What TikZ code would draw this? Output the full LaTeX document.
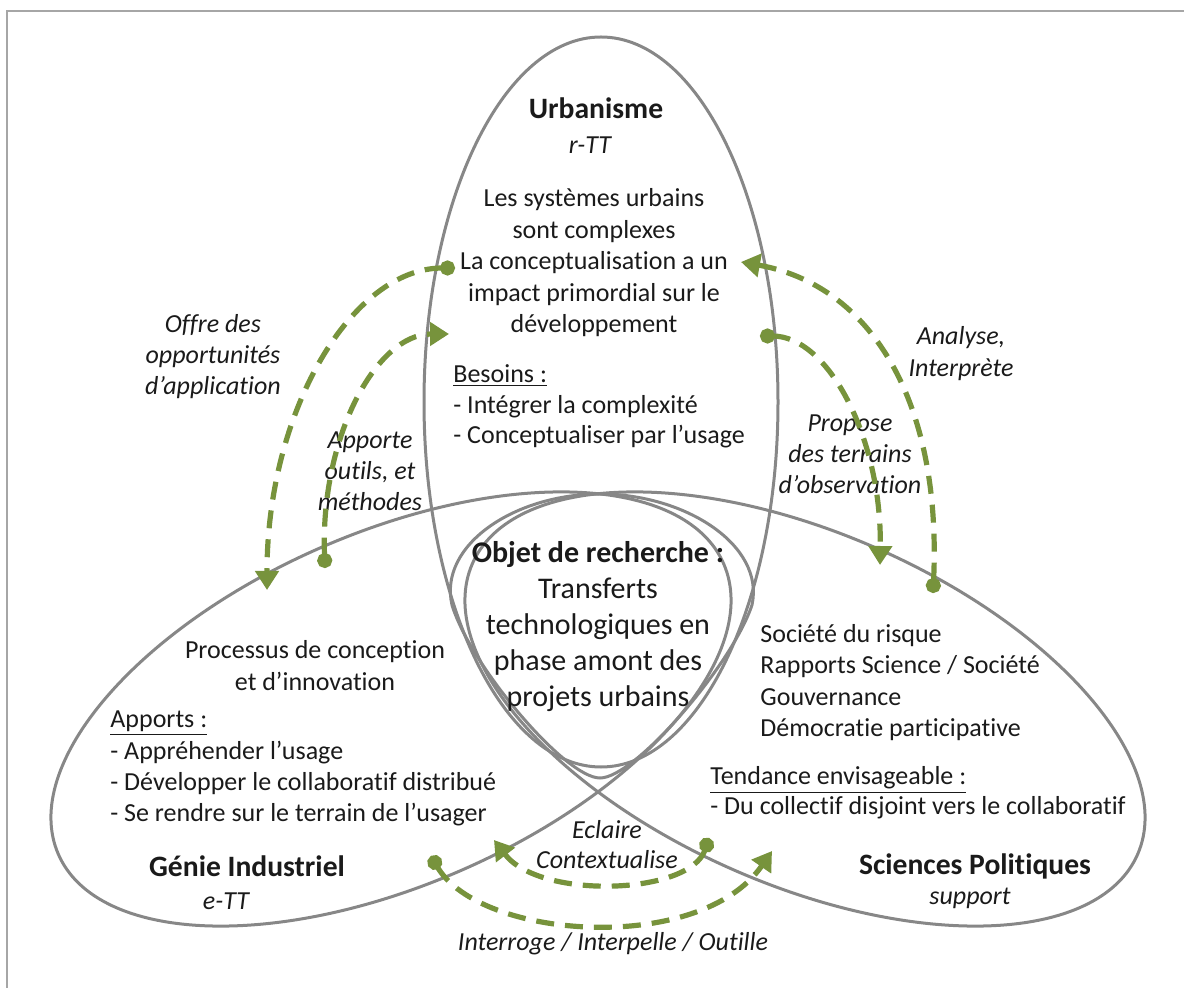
\documentclass[tikz,border=0pt]{standalone}
\usepackage{fontspec}
\setmainfont{Carlito}[Ligatures={NoCommon,NoContextual}]
\usetikzlibrary{arrows.meta}
\definecolor{arrowgreen}{HTML}{77933C}
\definecolor{ringgray}{HTML}{878787}
\definecolor{framegray}{HTML}{A6A6A6}
\definecolor{inkc}{HTML}{1A1A1A}
\begin{document}
\begin{tikzpicture}[x=0.5pt,y=-0.5pt,
  ring/.style={draw=ringgray,line width=1.5pt},
  flow/.style={draw=arrowgreen,line width=2.6pt,dash pattern=on 9pt off 5.5pt,
     {Circle[length=7.5pt,width=7.5pt]}-{Triangle[length=9.5pt,width=11.5pt]}},
  txt/.style={inner sep=0pt,text=inkc,font=\fontsize{13}{15.6}\selectfont},
  ctxt/.style={txt,align=center},
  ltxt/.style={txt,align=left,anchor=west},
  itxt/.style={txt,align=center,font=\fontsize{13}{15.6}\selectfont\itshape},
  ttl/.style={inner sep=0pt,text=inkc,font=\fontsize{14.8}{17}\selectfont\bfseries},
]
\useasboundingbox (0,0) rectangle (1184,988);
% frame
\draw[framegray,line width=1pt] (7,988) -- (7,11) -- (1184,11);

% rings
\draw[ring] (601,402) ellipse [x radius=177, y radius=365];
\draw[ring,rotate around={23.6:(391,709)}] (391,709) ellipse [x radius=363, y radius=176];
\draw[ring,rotate around={-23.6:(805,709)}] (805,709) ellipse [x radius=363, y radius=176];
\draw[ring] (600,778) .. controls (565,778) and (470,665) .. (452,605)
   .. controls (438,545) and (515,494) .. (600,494)
   .. controls (685,494) and (765,545) .. (752,605)
   .. controls (732,665) and (635,778) .. (600,778) -- cycle;

% texts
\node[ttl] (urb) at (596,108) {Urbanisme};
\node[itxt] (rtt) at (590,145) {r-TT};
\node[ctxt,font=\fontsize{13}{15.75}\selectfont] (urbtxt) at (594,263) {Les systèmes urbains\\sont complexes\\La conceptualisation a un\\impact primordial sur le\\développement};
\node[ltxt,font=\fontsize{13}{15.25}\selectfont] (besoins) at (453,406.5) {\underline{Besoins :}\\- Intégrer la complexité\\- Conceptualiser par l’usage};

\node[itxt] (offre) at (213,356.5) {Offre des\\opportunités\\d’application};
\node[itxt] (apporte) at (370,471) {Apporte\\outils, et\\méthodes};
\node[itxt] (analyse) at (961,353.5) {Analyse,\\Interprète};
\node[itxt] (propose) at (850,454.5) {Propose\\des terrains\\d’observation};

\node[txt,align=center,font=\fontsize{15}{18}\selectfont] (objet) at (598,627) {\textbf{Objet de recherche :}\\Transferts\\technologiques en\\phase amont des\\projets urbains};

\node[ctxt] (processus) at (315,665.5) {Processus de conception\\et d’innovation};
\node[ltxt] (apports) at (110,768.5) {\underline{Apports :}\\- Appréhender l’usage\\- Développer le collaboratif distribué\\- Se rendre sur le terrain de l’usager};
\node[ttl] (genie) at (247,866) {Génie Industriel};
\node[itxt] (ett) at (226,901) {e-TT};

\node[ltxt] (societe) at (760,682.5) {Société du risque\\Rapports Science / Société\\Gouvernance\\Démocratie participative};
\node[ltxt,font=\fontsize{13}{15}\selectfont] (tendance) at (710,793) {\underline{Tendance envisageable :}\\- Du collectif disjoint vers le collaboratif};
\node[ttl] (sciences) at (975,866) {Sciences Politiques};
\node[itxt] (support) at (970,898) {support};

\node[itxt,font=\fontsize{13}{15}\selectfont\itshape] (eclaire) at (607,845) {Eclaire\\Contextualise};
\node[itxt] (interroge) at (613,944) {Interroge / Interpelle / Outille};

% arrow end points
\coordinate (a1s) at (455,268);
\coordinate (a1e) at (267,590);
\coordinate (a2s) at (325,568);
\coordinate (a2e) at (449,334);
\coordinate (a3s) at (933,593);
\coordinate (a3e) at (741,262);
\coordinate (a4s) at (760,336);
\coordinate (a4e) at (880,565);
\coordinate (a5s) at (709,838);
\coordinate (a5e) at (494,840);
\coordinate (a6s) at (431,856);
\coordinate (a6e) at (772,851);

% arrows
\draw[flow] (a1s) .. controls (352,268) and (267,411) .. (a1e);
\draw[flow] (a2s) .. controls (320,438) and (376,334) .. (a2e);
\draw[flow] (a3s) .. controls (942,400) and (870,285) .. (a3e);
\draw[flow] (a4s) .. controls (829,336) and (882,440) .. (a4e);
\draw[flow] (a5s) .. controls (690,895) and (540,900) .. (a5e);
\draw[flow] (a6s) .. controls (480,940) and (700,955) .. (a6e);
\end{tikzpicture}
\end{document}
